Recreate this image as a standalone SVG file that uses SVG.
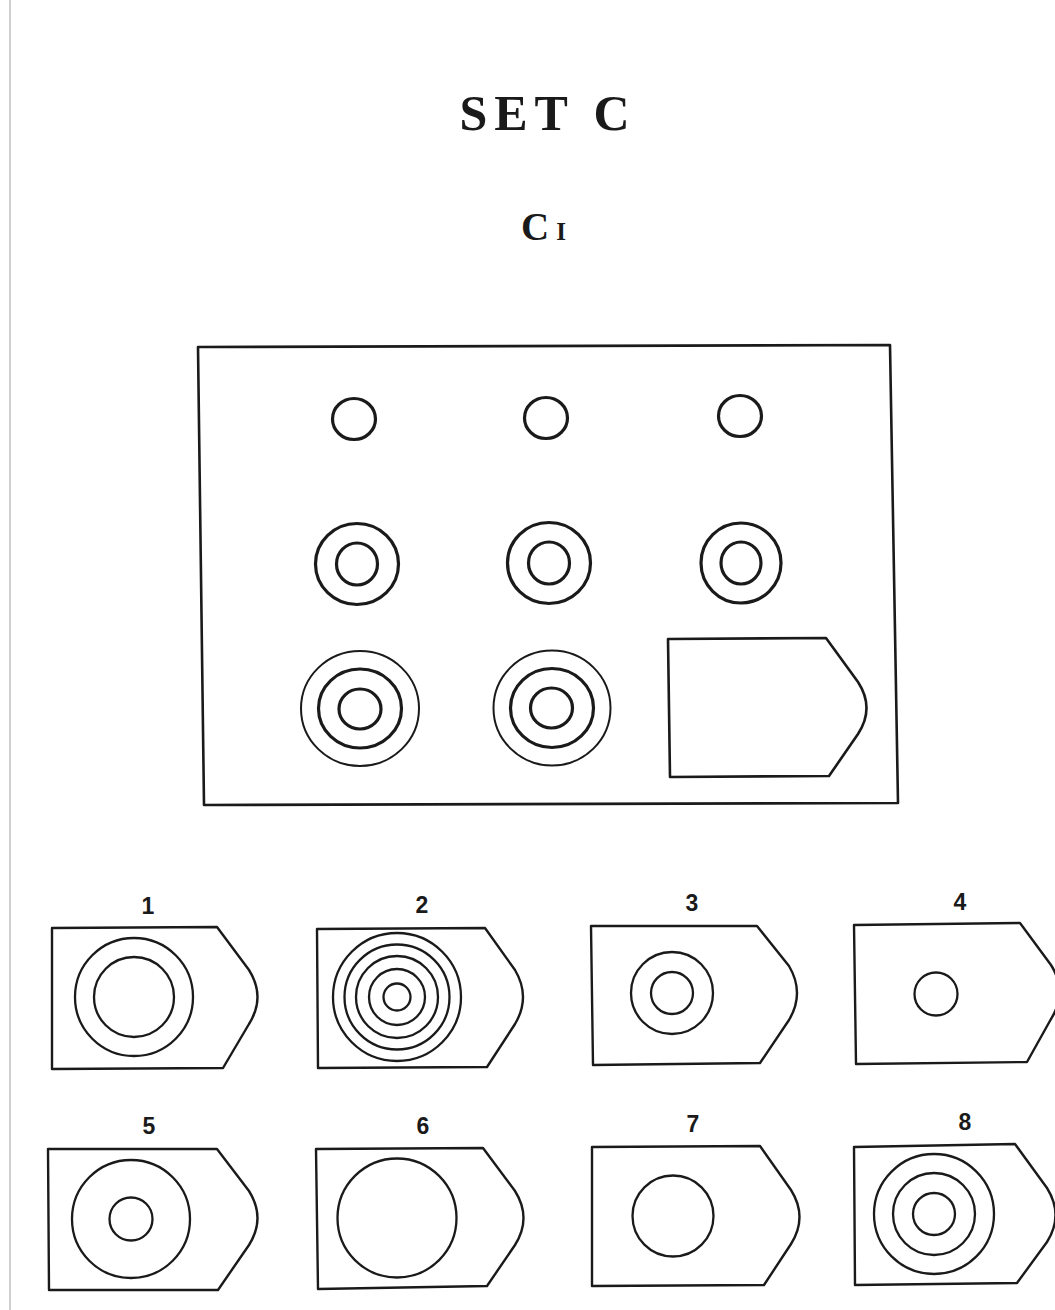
<svg xmlns="http://www.w3.org/2000/svg" width="1055" height="1310" viewBox="0 0 1055 1310">
<style>
.bg{fill:#fff}
.ln{fill:none;stroke:#1a1a1a;stroke-linejoin:round}
.box{stroke-width:2.6}
.thk{stroke-width:3.2}
.thn{stroke-width:2}
.opt{stroke-width:2.4}
.oc{stroke-width:2.3}
.title{font-family:"Liberation Serif","Times New Roman",serif;font-weight:bold;fill:#1a1a1a}
.lbl{font-family:"Liberation Sans",Arial,sans-serif;font-weight:bold;font-size:23px;fill:#1a1a1a;text-anchor:middle}
</style>
<rect class="bg" x="0" y="0" width="1055" height="1310"/>
<line x1="10" y1="0" x2="10" y2="1310" stroke="#d0d0d0" stroke-width="2"/>

<g id="title">
<text class="title" x="548" y="130" font-size="50" letter-spacing="7" text-anchor="middle">SET C</text>
<text class="title" x="521" y="240"><tspan font-size="39">C</tspan><tspan font-size="25" dx="7">I</tspan></text>
</g>

<g id="matrix">
<path class="ln box" d="M198,347 L890,345 L898,803 L204,805 Z"/>
<g id="m11"><ellipse class="ln thk" cx="354" cy="419" rx="21.5" ry="20.5"/></g>
<g id="m12"><ellipse class="ln thk" cx="546" cy="418" rx="21.5" ry="20.5"/></g>
<g id="m13"><ellipse class="ln thk" cx="740" cy="416" rx="21.5" ry="20.5"/></g>
<g id="m21"><ellipse class="ln thk" cx="357" cy="564" rx="41.5" ry="40.5"/><ellipse class="ln thk" cx="357" cy="564" rx="20.5" ry="21"/></g>
<g id="m22"><ellipse class="ln thk" cx="549" cy="563" rx="41.5" ry="40.5"/><ellipse class="ln thk" cx="549" cy="563" rx="20.5" ry="21"/></g>
<g id="m23"><ellipse class="ln thk" cx="741" cy="563" rx="40" ry="40"/><ellipse class="ln thk" cx="741" cy="563" rx="20" ry="21"/></g>
<g id="m31"><ellipse class="ln thn" cx="360" cy="708.5" rx="59" ry="57.5"/><ellipse class="ln thk" cx="360" cy="708.5" rx="41.5" ry="39.5"/><ellipse class="ln thk" cx="360" cy="709" rx="21" ry="20"/></g>
<g id="m32"><ellipse class="ln thn" cx="552" cy="708" rx="58.5" ry="57.5"/><ellipse class="ln thk" cx="552" cy="708" rx="41.5" ry="39.5"/><ellipse class="ln thk" cx="551.5" cy="708" rx="21" ry="20"/></g>
<g id="m33"><path class="ln box" d="M668,639 L826,638 L858,682 Q875,708 858,734 L829,776 L670,777 Z"/></g>
</g>

<g id="opt1">
<text class="lbl" x="148" y="914">1</text>
<path class="ln opt" d="M52,928 L217,927 L249,970 Q266,997 249,1024 L223,1068 L52,1069 Z"/>
<circle class="ln oc" cx="134" cy="997" r="59"/>
<circle class="ln oc" cx="134" cy="997" r="40"/>
</g>
<g id="opt2">
<text class="lbl" x="422" y="913">2</text>
<path class="ln opt" d="M317,929 L485,928 L515,970 Q531,997 515,1024 L487,1067 L318,1068 Z"/>
<circle class="ln oc" cx="397" cy="997" r="64"/>
<circle class="ln oc" cx="397" cy="997" r="52.5"/>
<circle class="ln oc" cx="397" cy="997" r="41"/>
<circle class="ln oc" cx="397" cy="997" r="28"/>
<circle class="ln oc" cx="397" cy="997" r="13.5"/>
</g>
<g id="opt3">
<text class="lbl" x="692" y="911">3</text>
<path class="ln opt" d="M591,926 L757,926 L789,966 Q805,993 789,1020 L760,1063 L593,1065 Z"/>
<circle class="ln oc" cx="672" cy="993" r="41"/>
<circle class="ln oc" cx="672" cy="993" r="21"/>
</g>
<g id="opt4">
<text class="lbl" x="960" y="910">4</text>
<path class="ln opt" d="M854,925 L1020,923 L1051,965 Q1068,992 1051,1019 L1027,1062 L856,1064 Z"/>
<circle class="ln oc" cx="936" cy="994" r="21.5"/>
</g>
<g id="opt5">
<text class="lbl" x="149" y="1134">5</text>
<path class="ln opt" d="M48,1149 L217,1149 L249,1191 Q266,1218 249,1245 L218,1290 L49,1290 Z"/>
<circle class="ln oc" cx="131" cy="1219" r="59"/>
<circle class="ln oc" cx="131" cy="1219" r="21.5"/>
</g>
<g id="opt6">
<text class="lbl" x="423" y="1134">6</text>
<path class="ln opt" d="M316,1149 L483,1148 L515,1191 Q532,1218 515,1245 L487,1286 L318,1289 Z"/>
<circle class="ln oc" cx="397" cy="1218" r="59.5"/>
</g>
<g id="opt7">
<text class="lbl" x="693" y="1132">7</text>
<path class="ln opt" d="M592,1147 L760,1146 L791,1190 Q808,1217 791,1244 L764,1285 L592,1286 Z"/>
<circle class="ln oc" cx="673" cy="1216" r="40.5"/>
</g>
<g id="opt8">
<text class="lbl" x="965" y="1130" font-weight="normal">8</text>
<path class="ln opt" d="M854,1147 L1015,1144 L1047,1188 Q1064,1215 1047,1242 L1017,1283 L855,1285 Z"/>
<circle class="ln oc" cx="934" cy="1214" r="60"/>
<circle class="ln oc" cx="934" cy="1214" r="41"/>
<circle class="ln oc" cx="934" cy="1214" r="21"/>
</g>
</svg>
